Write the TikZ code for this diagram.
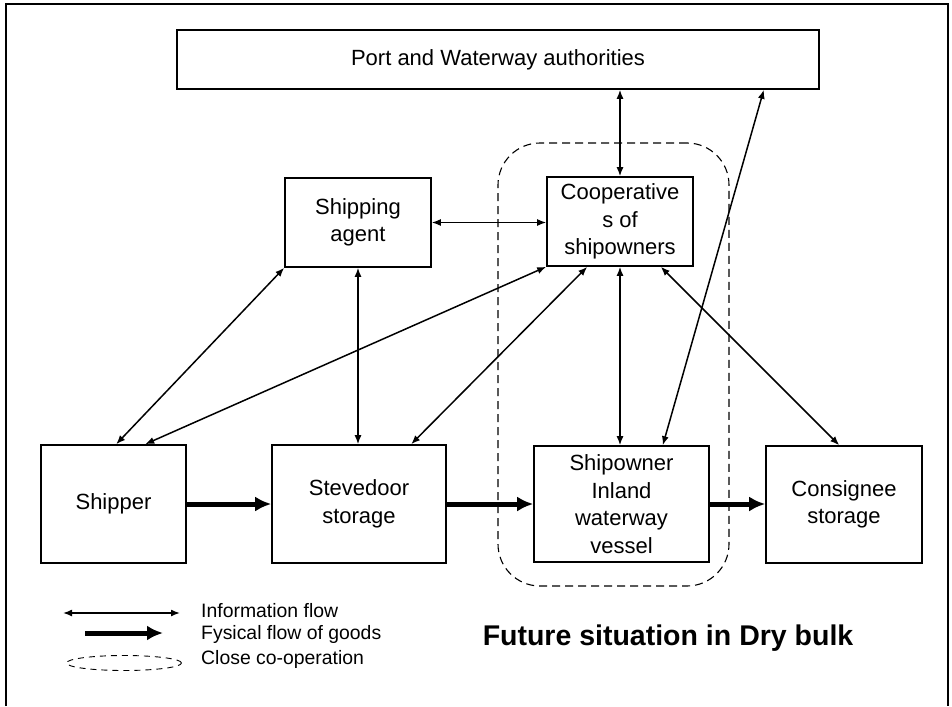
\documentclass[tikz,border=0pt]{standalone}
\usepackage{fontspec}
\setmainfont{Liberation Sans}
\usetikzlibrary{arrows.meta,shapes.geometric,calc}
\begin{document}
\begin{tikzpicture}[x=1pt,y=-1pt,
  box/.style={draw,line width=1.6pt,inner sep=0pt,align=center,
    font=\fontsize{22}{27.5}\selectfont},
  info/.style={line width=1.5pt,{Latex[length=9pt,width=7pt]}-{Latex[length=9pt,width=7pt]}},
  goods/.style={line width=5pt,-{Latex[length=16pt,width=15pt]}},
  zone/.style={draw,line width=1.1pt,dash pattern=on 8pt off 5pt},
  legendtext/.style={anchor=west,inner sep=0pt,font=\fontsize{19.4}{22}\selectfont}]
\useasboundingbox (0,0) rectangle (952,706);
% outer frame (open at the bottom)
\draw[line width=2.2pt] (6,706) -- (6,4) -- (948,4) -- (948,706);

% close co-operation zone
\node[zone,rounded corners=42pt,minimum width=231pt,minimum height=443pt] (zonebox) at (613.5,364.5) {};

% actors
\node[box,minimum width=642pt,minimum height=59pt] (port) at (498,59.5) {Port and Waterway authorities};
\node[box,minimum width=146pt,minimum height=89pt] (coop) at (620,221.5) {Cooperative\\s of\\shipowners};
\node[box,minimum width=146pt,minimum height=89pt] (agent) at (358,222.5) {Shipping\\agent};
\node[box,minimum width=145pt,minimum height=118pt] (shipper) at (113.5,504) {Shipper};
\node[box,minimum width=174pt,minimum height=118pt] (stev) at (359,504) {Stevedoor\\storage};
\node[box,minimum width=175pt,minimum height=116pt] (owner) at (621.5,504) {Shipowner\\Inland\\waterway\\vessel};
\node[box,minimum width=156pt,minimum height=117pt] (cons) at (844,504.5) {Consignee\\storage};

% information flows
\draw[info] (port.south -| coop.north) -- (coop.north);
\draw[info] ([xshift=-56pt]port.south east) -- ([xshift=-47pt]owner.north east);
\draw[info] (agent.east) -- (agent.east -| coop.west);
\draw[info] (agent.south west) -- ([xshift=76pt]shipper.north west);
\draw[info] (agent.south) -- (agent.south |- stev.north);
\draw[info] (coop.south west) -- ([xshift=105pt]shipper.north west);
\draw[info] ([xshift=41pt]coop.south west) -- ([xshift=140pt]stev.north west);
\draw[info] (coop.south) -- (coop.south |- owner.north);
\draw[info] ([xshift=-33pt]coop.south east) -- ([xshift=74pt]cons.north west);

% physical flow of goods
\draw[goods] (shipper.east) -- (stev.west);
\draw[goods] (stev.east) -- (stev.east -| owner.west);
\draw[goods] (owner.east) -- (owner.east -| cons.west);

% legend
\coordinate (infoA) at (63,613);
\coordinate (infoB) at (180,613);
\draw[info] (infoA) -- (infoB);
\node[legendtext] (infotext) at (201,611) {Information flow};
\coordinate (goodsA) at (85,633);
\coordinate (goodsB) at (163,633);
\draw[goods] (goodsA) -- (goodsB);
\node[legendtext] (goodstext) at (201,634) {Fysical flow of goods};
\node[ellipse,draw,line width=0.9pt,dash pattern=on 6pt off 5pt,minimum width=115pt,minimum height=15pt,inner sep=0pt] (zonekey) at (124,663) {};
\node[legendtext] (zonetext) at (201,659) {Close co-operation};

% title
\node[font=\fontsize{28.5}{32}\selectfont\bfseries,inner sep=0pt] (title) at (668,638) {Future situation in Dry bulk};
\end{tikzpicture}
\end{document}
